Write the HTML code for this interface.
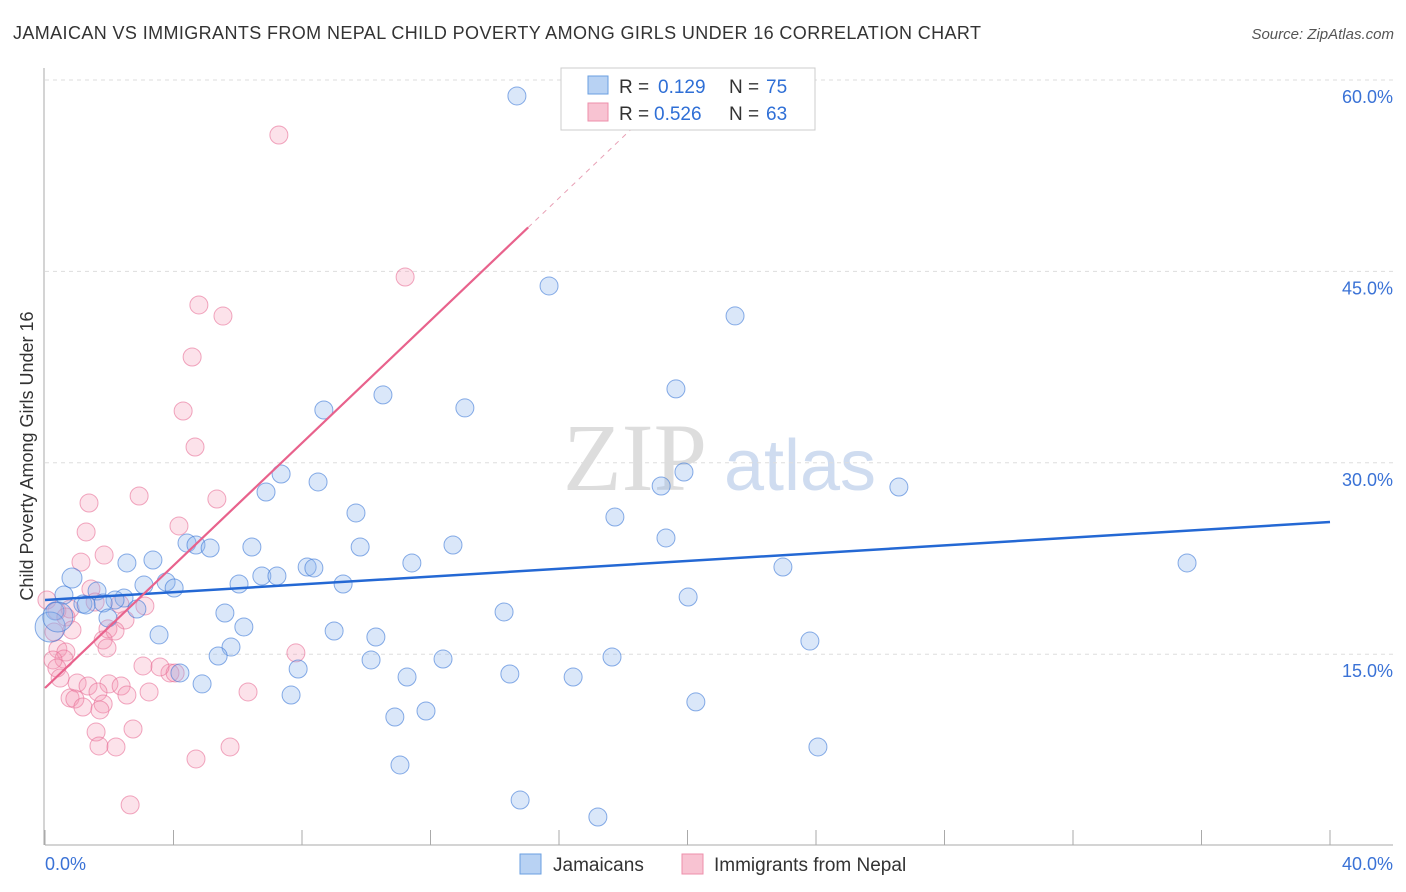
<!DOCTYPE html>
<html><head><meta charset="utf-8"><style>
body{margin:0;background:#fff;font-family:"Liberation Sans",sans-serif}
svg{display:block}
</style></head><body>
<svg id="chart" width="1406" height="892">
<text x="13" y="39" font-size="18" fill="#333" textLength="968">JAMAICAN VS IMMIGRANTS FROM NEPAL CHILD POVERTY AMONG GIRLS UNDER 16 CORRELATION CHART</text>
<text x="1394" y="39" font-size="15" fill="#555" font-style="italic" text-anchor="end">Source: ZipAtlas.com</text>
<text transform="translate(33,456) rotate(-90)" font-size="18" fill="#333" text-anchor="middle">Child Poverty Among Girls Under 16</text>
<g><text x="635" y="490" font-size="96" font-family="Liberation Serif,serif" fill="#ddd" text-anchor="middle">ZIP</text><text x="800" y="490" font-size="72" fill="#cfdcf0" text-anchor="middle">atlas</text></g>
<g id="grid"></g><g id="axes"></g><g id="marks"></g><g id="lines"></g>
<g>
<rect x="561" y="68" width="254" height="62" fill="#fff" stroke="#ccc"/>
<rect x="588" y="76" width="20" height="18" fill="#b8d2f3" stroke="#6a9fe0"/>
<rect x="588" y="103" width="20" height="18" fill="#f8c3d2" stroke="#ee8fab"/>
<text x="619" y="93" font-size="19" fill="#333">R =</text><text x="658" y="93" font-size="19" fill="#2f6fd6">0.129</text>
<text x="729" y="93" font-size="19" fill="#333">N =</text><text x="766" y="93" font-size="19" fill="#2f6fd6">75</text>
<text x="619" y="120" font-size="19" fill="#333">R =</text><text x="654" y="120" font-size="19" fill="#2f6fd6">0.526</text>
<text x="729" y="120" font-size="19" fill="#333">N =</text><text x="766" y="120" font-size="19" fill="#2f6fd6">63</text>
</g>
<g>
<rect x="520" y="854" width="21" height="20" fill="#b8d2f3" stroke="#6a9fe0"/>
<text x="553" y="871" font-size="19" fill="#333">Jamaicans</text>
<rect x="682" y="854" width="21" height="20" fill="#f8c3d2" stroke="#ee8fab"/>
<text x="714" y="871" font-size="19" fill="#333">Immigrants from Nepal</text>
</g>
</svg>
<script>
const xTicks=[0,4,8,12,16,20,24,28,32,36,40];
const yTicks=[15,30,45,60];
const yTickLabels=["15.0%","30.0%","45.0%","60.0%"];
const xTickLabels=["0.0%","40.0%"];
const blueX=[14.69,15.69,21.48,19.64,10.52,13.07,8.68,19.89,19.18,26.58,7.35,6.88,8.50,9.68,17.74,19.33,12.70,9.81,4.42,4.70,5.14,6.44,3.36,2.55,11.42,35.55,22.97,8.16,8.37,6.75,7.22,9.28,0.84,3.77,4.02,6.04,3.08,1.62,0.59,2.46,2.18,1.81,1.18,1.28,20.02,14.29,5.60,2.86,0.31,1.96,6.19,9.00,3.55,10.30,23.81,5.79,5.39,17.65,12.39,10.15,7.88,4.20,14.47,11.27,16.44,4.89,7.66,20.26,11.86,10.89,24.06,11.05,14.79,17.21,0.16,0.40];
const blueY=[58.75,43.86,41.51,35.79,35.32,34.30,34.14,29.28,28.18,28.10,29.12,27.71,28.50,26.07,25.75,24.11,23.56,23.40,23.71,23.56,23.32,23.40,22.38,22.15,22.15,22.15,21.83,21.83,21.76,21.13,21.13,20.50,20.97,20.66,20.19,20.50,20.42,19.95,19.64,19.40,19.25,19.01,18.93,18.86,19.48,18.31,18.23,18.54,18.39,17.84,17.13,16.82,16.51,16.35,16.03,15.56,14.86,14.78,14.62,14.55,13.84,13.53,13.45,13.21,13.21,12.67,11.80,11.26,10.55,10.08,7.73,6.32,3.57,2.24,17.13,17.92];
const pinkX=[7.28,11.21,4.79,5.54,4.58,4.30,4.67,2.93,5.35,1.37,1.28,4.17,1.12,1.84,1.43,2.33,3.11,0.06,0.37,0.78,1.56,0.65,2.49,1.96,0.84,2.18,1.81,0.28,0.40,0.65,0.59,1.93,0.25,0.37,7.81,3.05,3.89,0.47,1.00,1.34,1.99,2.37,1.65,3.24,6.32,2.55,0.78,0.93,1.81,1.18,1.71,2.74,1.59,1.68,2.21,5.76,4.70,2.65,4.05,3.58];
const pinkY=[55.69,44.56,42.37,41.50,38.29,34.06,31.24,27.40,27.16,26.85,24.58,25.05,22.22,22.77,20.11,18.93,18.78,19.25,18.39,18.54,19.09,17.92,17.68,16.98,16.90,16.82,16.11,16.74,15.41,15.17,14.62,15.49,14.55,13.92,15.10,14.08,13.53,13.13,12.74,12.51,12.67,12.51,12.04,12.04,12.04,11.80,11.57,11.49,11.10,10.86,10.63,9.14,8.90,7.81,7.73,7.73,6.79,3.19,13.53,14.00];
const blueTrend=[19.25,25.36]; // y at x=0 and x=40
const pinkTrend=[12.35,2.40];  // intercept, slope
const NS="http://www.w3.org/2000/svg";
const X=v=>45+v*32.125, Y=v=>845.6-v*12.76;
function mk(tag,attrs,parent){const e=document.createElementNS(NS,tag);for(const k in attrs)e.setAttribute(k,attrs[k]);parent.appendChild(e);return e;}
const grid=document.getElementById('grid'),axes=document.getElementById('axes'),marks=document.getElementById('marks'),lines=document.getElementById('lines');
yTicks.forEach((t,i)=>{
 const g=mk('line',{x1:45,x2:1393,y1:Y(t),y2:Y(t),stroke:'#ddd','stroke-dasharray':'4,4'},grid);
 
 
 const l=mk('text',{x:1393,y:Y(t)+23,'font-size':18,fill:'#3a72d6','text-anchor':'end'},axes);l.textContent=yTickLabels[i];
 
 
});
mk('line',{x1:45,x2:1393,y1:845,y2:845,stroke:'#aaa'},axes);
mk('line',{x1:44,x2:44,y1:68,y2:845,stroke:'#aaa'},axes);
xTicks.forEach(t=>{const k=mk('line',{x1:X(t),x2:X(t),y1:830,y2:845,stroke:'#aaa'},axes);
 
 });
const xl0=mk('text',{x:45,y:870,'font-size':18,fill:'#3a72d6'},axes);xl0.textContent=xTickLabels[0];


const xl1=mk('text',{x:1393,y:870,'font-size':18,fill:'#3a72d6','text-anchor':'end'},axes);xl1.textContent=xTickLabels[1];


pinkX.forEach((v,i)=>{const c=mk('circle',{cx:X(v),cy:Y(pinkY[i]),r:9,fill:'rgba(244,150,180,0.28)',stroke:'rgba(232,110,150,0.6)','stroke-width':1},marks);
 
 });
blueX.forEach((v,i)=>{const r=i>=blueX.length-2?15:(i==32?10:9);const c=mk('circle',{cx:X(v),cy:Y(blueY[i]),r:r,fill:'rgba(140,180,235,0.32)',stroke:'rgba(60,120,215,0.6)','stroke-width':1},marks);
 
 });
const bl=mk('line',{x1:X(0),y1:Y(blueTrend[0]),x2:X(40),y2:Y(blueTrend[1]),stroke:'#2468d4','stroke-width':2.5},lines);


const pl=mk('line',{x1:X(0),y1:Y(pinkTrend[0]),x2:X(15.04),y2:Y(pinkTrend[0]+pinkTrend[1]*15.04),stroke:'#e8628c','stroke-width':2.2},lines);


const pd=mk('line',{x1:X(15.04),y1:Y(pinkTrend[0]+pinkTrend[1]*15.04),x2:X(18.5),y2:Y(pinkTrend[0]+pinkTrend[1]*18.5),stroke:'#e8a0b5','stroke-width':1,'stroke-dasharray':'5,5'},lines);


</script>
</body></html>
